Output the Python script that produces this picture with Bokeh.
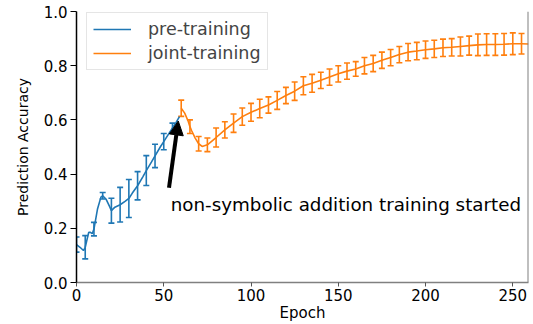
from bokeh.plotting import figure
from bokeh.models import (Range1d, FixedTicker, Whisker, TeeHead, Arrow, NormalHead,
                          Label, Span, ColumnDataSource, PrintfTickFormatter)
from bokeh.embed import file_html
from bokeh.resources import INLINE

# ---- data ----
pre_epoch = [0, 2, 4, 5, 7, 8, 9, 10, 12, 14, 15, 17, 19, 20, 22, 25, 28, 30, 32, 35,
             38, 40, 43, 45, 48, 50, 52, 55, 57, 59]
pre_acc = [0.14, 0.13, 0.118, 0.13, 0.185, 0.185, 0.18, 0.197, 0.27, 0.315, 0.32, 0.307,
           0.28, 0.265, 0.278, 0.287, 0.30, 0.31, 0.33, 0.357, 0.39, 0.413, 0.445, 0.467,
           0.50, 0.52, 0.54, 0.57, 0.59, 0.612]
pre_bar_epoch = [0, 5, 10, 15, 20, 25, 30, 35, 40, 45, 50, 55]
pre_bar_err = [0.028, 0.043, 0.025, 0.012, 0.046, 0.064, 0.07, 0.052, 0.055, 0.043, 0.03, 0.018]

joint_epoch = [60, 62, 64, 65, 66, 68, 70, 72, 75, 80, 85, 90, 95, 100, 105, 110, 115, 120,
               125, 130, 135, 140, 145, 150, 155, 160, 165, 170, 175, 180, 185, 190, 195,
               200, 205, 210, 215, 220, 225, 230, 235, 240, 245, 250, 255, 259]
joint_acc = [0.643, 0.625, 0.595, 0.575, 0.56, 0.533, 0.512, 0.502, 0.508, 0.535, 0.563,
             0.588, 0.612, 0.628, 0.642, 0.655, 0.672, 0.69, 0.706, 0.726, 0.735, 0.746,
             0.758, 0.77, 0.78, 0.788, 0.80, 0.808, 0.82, 0.83, 0.841, 0.85, 0.854, 0.859,
             0.862, 0.866, 0.868, 0.871, 0.874, 0.877, 0.878, 0.878, 0.879, 0.881, 0.881, 0.88]
joint_bar_epoch = list(range(60, 256, 5))
joint_bar_err = [0.03, 0.025, 0.027, 0.025, 0.035, 0.03, 0.034, 0.032, 0.033, 0.034, 0.03,
                 0.033, 0.03, 0.034, 0.033, 0.033, 0.03, 0.03, 0.03, 0.03, 0.027, 0.03,
                 0.03, 0.03, 0.03, 0.03, 0.032, 0.032, 0.032, 0.032, 0.032, 0.032, 0.035,
                 0.035, 0.04, 0.04, 0.04, 0.04, 0.04, 0.038]

x_ticks = [0, 50, 100, 150, 200, 250]
y_ticks = [0.0, 0.2, 0.4, 0.6, 0.8, 1.0]
x_max = 259

annot_text = "non-symbolic addition training started"
annot_pos = (54, 0.289)
arrow_tail = (53, 0.35)
arrow_tip = (58.3, 0.596)

BLUE = "#1f77b4"
ORANGE = "#ff7f0e"
FONT = "DejaVu Sans"

p = figure(width=533, height=324, x_range=Range1d(0, x_max), y_range=Range1d(0, 1),
           output_backend="svg", toolbar_location=None,
           min_border_left=76, min_border_right=5, min_border_top=11, min_border_bottom=0)
p.outline_line_color = None
p.grid.visible = False
p.background_fill_color = "white"

# axes
p.xaxis.ticker = FixedTicker(ticks=x_ticks)
p.yaxis.ticker = FixedTicker(ticks=y_ticks)
p.yaxis.formatter = PrintfTickFormatter(format="%.1f")
for ax in (p.xaxis, p.yaxis):
    ax.minor_tick_line_color = None
    ax.major_label_text_font = FONT
    ax.major_label_text_font_size = "15px"
    ax.major_label_text_color = "black"
    ax.axis_label_text_font = FONT
    ax.axis_label_text_font_style = "normal"
    ax.axis_label_text_color = "black"
    ax.major_tick_in = 0
p.xaxis.axis_label = "Epoch"
p.yaxis.axis_label = "Prediction Accuracy"
p.xaxis.axis_label_text_font_size = "15px"
p.yaxis.axis_label_text_font_size = "14px"
p.xaxis.axis_line_color = "#808080"
p.xaxis.axis_line_width = 1.5
p.xaxis.major_tick_line_color = "#555555"
p.xaxis.major_tick_out = 4
p.xaxis.major_label_standoff = 2
p.xaxis.axis_label_standoff = 0
p.yaxis.axis_line_color = "black"
p.yaxis.axis_line_width = 1.5
p.yaxis.major_tick_line_color = "black"
p.yaxis.major_tick_out = 6
p.yaxis.major_label_standoff = 3
p.yaxis.axis_label_standoff = 10

p.add_layout(Span(location=x_max, dimension="height", line_color="#808080", line_width=2))

# lines
r1 = p.line(pre_epoch, pre_acc, line_color=BLUE, line_width=1.6, legend_label="pre-training")
r2 = p.line(joint_epoch, joint_acc, line_color=ORANGE, line_width=1.6, legend_label="joint-training")

# error bars
def add_bars(epochs, accs, bar_epochs, errs, color):
    lookup = dict(zip(epochs, accs))
    centers = [lookup[e] for e in bar_epochs]
    src = ColumnDataSource(dict(base=bar_epochs,
                                lower=[c - e for c, e in zip(centers, errs)],
                                upper=[c + e for c, e in zip(centers, errs)]))
    w = Whisker(source=src, base="base", lower="lower", upper="upper", dimension="height",
                line_color=color, line_width=1.6,
                upper_head=TeeHead(size=6, line_color=color, line_width=1.6),
                lower_head=TeeHead(size=6, line_color=color, line_width=1.6))
    p.add_layout(w)

add_bars(pre_epoch, pre_acc, pre_bar_epoch, pre_bar_err, BLUE)
add_bars(joint_epoch, joint_acc, joint_bar_epoch, joint_bar_err, ORANGE)

# annotation
p.add_layout(Arrow(end=NormalHead(size=14, fill_color="black", line_color="black"),
                   x_start=arrow_tail[0], y_start=arrow_tail[1],
                   x_end=arrow_tip[0], y_end=arrow_tip[1],
                   line_width=4, line_color="black"))
p.add_layout(Label(x=annot_pos[0], y=annot_pos[1], text=annot_text,
                   text_font=FONT, text_font_size="18.3px", text_color="black",
                   text_baseline="alphabetic"))

# legend
lg = p.legend[0]
lg.location = (10, 212)
lg.label_text_font = FONT
lg.label_text_font_size = "17.5px"
lg.glyph_width = 38
lg.glyph_height = 18
lg.label_height = 18
lg.label_standoff = 17
lg.spacing = 4
lg.padding = 6
lg.margin = 0
lg.border_line_color = "#cccccc"
lg.border_line_width = 1
lg.background_fill_alpha = 0.8

open("out.html", "w").write(file_html(p, INLINE))
